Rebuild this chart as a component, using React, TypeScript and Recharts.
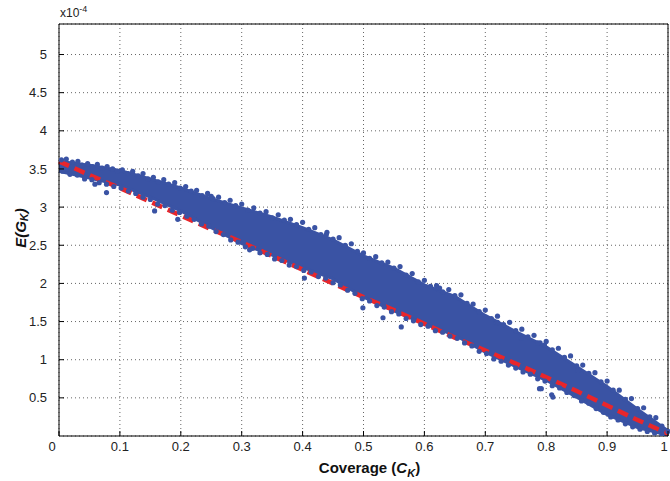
import React from "react";
import {
  ComposedChart,
  Area,
  Line,
  Scatter,
  XAxis,
  YAxis,
  CartesianGrid,
  ReferenceLine,
  Label,
} from "recharts";

const BLUE = "#3a53a4";
const RED = "#e8262b";
const FONT = "'Liberation Sans', Arial, Helvetica, sans-serif";

// tick labels
const X_TICKS = [0, 0.1, 0.2, 0.3, 0.4, 0.5, 0.6, 0.7, 0.8, 0.9, 1];
const Y_TICKS = [0.5, 1, 1.5, 2, 2.5, 3, 3.5, 4, 4.5, 5];

// dense core of the scatter cloud (x10^-4), read every 0.05 of coverage
const bandX = [0, 0.05, 0.1, 0.15, 0.2, 0.25, 0.3, 0.35, 0.4, 0.45, 0.5, 0.55, 0.6, 0.65, 0.7, 0.75, 0.8, 0.85, 0.9, 0.95, 1];
const bandLow = [3.47, 3.38, 3.29, 3.13, 2.95, 2.73, 2.52, 2.37, 2.21, 2.06, 1.82, 1.64, 1.47, 1.32, 1.1, 0.91, 0.73, 0.51, 0.28, 0.11, 0.01];
const bandHigh = [3.6, 3.55, 3.48, 3.37, 3.25, 3.11, 2.99, 2.87, 2.73, 2.57, 2.36, 2.2, 1.98, 1.83, 1.58, 1.37, 1.17, 0.91, 0.65, 0.35, 0.07];

// red dashed reference curve
const fitLine = [3.6, 3.42, 3.25, 3.07, 2.89, 2.71, 2.54, 2.36, 2.18, 2.0, 1.82, 1.65, 1.47, 1.29, 1.12, 0.95, 0.77, 0.59, 0.4, 0.21, 0.03];

// individual samples along the ragged upper edge
const upperDots: [number, number][] = [
  [0.004, 3.62], [0.012, 3.63], [0.022, 3.59], [0.031, 3.6], [0.038, 3.55], [0.047, 3.57], [0.055, 3.53],
  [0.063, 3.56], [0.071, 3.51], [0.079, 3.53], [0.088, 3.5], [0.096, 3.47], [0.104, 3.49], [0.113, 3.44],
  [0.121, 3.47], [0.13, 3.41], [0.138, 3.44], [0.146, 3.37], [0.155, 3.39], [0.163, 3.33], [0.172, 3.36],
  [0.18, 3.3], [0.19, 3.32], [0.199, 3.25], [0.208, 3.27], [0.217, 3.21], [0.226, 3.22], [0.235, 3.15],
  [0.244, 3.18], [0.253, 3.11], [0.262, 3.13], [0.272, 3.06], [0.281, 3.09], [0.29, 3.02], [0.3, 3.04],
  [0.31, 2.96], [0.32, 2.99], [0.33, 2.92], [0.34, 2.94], [0.35, 2.86], [0.36, 2.9], [0.37, 2.83],
  [0.38, 2.84], [0.39, 2.77], [0.4, 2.8], [0.41, 2.71], [0.42, 2.73], [0.43, 2.64], [0.44, 2.67],
  [0.45, 2.58], [0.46, 2.6], [0.47, 2.5], [0.48, 2.52], [0.49, 2.42], [0.5, 2.4], [0.51, 2.33],
  [0.52, 2.35], [0.53, 2.27], [0.54, 2.28], [0.55, 2.2], [0.56, 2.22], [0.57, 2.11], [0.58, 2.13],
  [0.59, 2.02], [0.6, 2.04], [0.61, 1.96], [0.62, 1.97], [0.63, 1.89], [0.64, 1.92], [0.65, 1.84],
  [0.66, 1.85], [0.67, 1.74], [0.68, 1.73], [0.69, 1.63], [0.7, 1.65], [0.71, 1.54], [0.72, 1.57],
  [0.73, 1.46], [0.74, 1.49], [0.75, 1.38], [0.76, 1.4], [0.77, 1.3], [0.78, 1.32], [0.79, 1.22],
  [0.8, 1.24], [0.81, 1.13], [0.82, 1.15], [0.83, 1.03], [0.84, 1.05], [0.85, 0.92], [0.86, 0.93],
  [0.87, 0.82], [0.88, 0.83], [0.89, 0.71], [0.9, 0.72], [0.91, 0.6], [0.92, 0.6], [0.93, 0.48],
  [0.94, 0.49], [0.95, 0.36], [0.96, 0.37], [0.97, 0.25], [0.98, 0.24], [0.99, 0.13], [1.0, 0.06],
];

// samples along the lower edge
const lowerDots: [number, number][] = [
  [0.006, 3.47], [0.018, 3.43], [0.03, 3.42], [0.042, 3.37], [0.054, 3.36], [0.066, 3.32], [0.078, 3.3],
  [0.09, 3.27], [0.102, 3.25], [0.114, 3.21], [0.126, 3.18], [0.138, 3.13], [0.15, 3.1], [0.162, 3.04],
  [0.174, 3.02], [0.186, 2.96], [0.198, 2.93], [0.21, 2.88], [0.222, 2.84], [0.234, 2.78], [0.246, 2.75],
  [0.258, 2.68], [0.27, 2.64], [0.282, 2.57], [0.294, 2.54], [0.306, 2.48], [0.318, 2.46], [0.33, 2.4],
  [0.342, 2.38], [0.354, 2.32], [0.366, 2.3], [0.378, 2.24], [0.39, 2.22], [0.402, 2.17], [0.414, 2.15],
  [0.426, 2.09], [0.438, 2.07], [0.45, 2.01], [0.462, 1.98], [0.474, 1.91], [0.486, 1.87], [0.498, 1.8],
  [0.51, 1.77], [0.522, 1.71], [0.534, 1.69], [0.546, 1.63], [0.558, 1.6], [0.57, 1.54], [0.582, 1.51],
  [0.594, 1.46], [0.606, 1.44], [0.618, 1.38], [0.63, 1.36], [0.642, 1.31], [0.654, 1.28], [0.666, 1.22],
  [0.678, 1.18], [0.69, 1.11], [0.702, 1.08], [0.714, 1.01], [0.726, 0.98], [0.738, 0.93], [0.75, 0.89],
  [0.762, 0.84], [0.774, 0.81], [0.786, 0.75], [0.798, 0.72], [0.81, 0.66], [0.822, 0.63], [0.834, 0.57],
  [0.846, 0.53], [0.858, 0.46], [0.87, 0.43], [0.882, 0.36], [0.894, 0.31], [0.906, 0.25], [0.918, 0.21],
  [0.93, 0.16], [0.942, 0.12], [0.954, 0.09], [0.966, 0.06], [0.978, 0.04], [0.99, 0.02],
];

// stray samples away from the cloud
const strayDots: [number, number][] = [
  [0.059, 3.3], [0.078, 3.19], [0.157, 2.95], [0.195, 2.84], [0.25, 3.14], [0.313, 2.44], [0.403, 2.07],
  [0.439, 2.64], [0.499, 1.68], [0.532, 1.55], [0.562, 1.43], [0.625, 1.94], [0.718, 1.48], [0.72, 1.49],
  [0.759, 1.28], [0.786, 1.22], [0.797, 1.19], [0.789, 0.62], [0.792, 0.62], [0.809, 0.54], [0.811, 0.51],
  [0.852, 0.86],
];

const rows = bandX.map((x, i) => ({ x, band: [bandLow[i], bandHigh[i]], fit: fitLine[i] }));
const dots = [...upperDots, ...lowerDots, ...strayDots].map(([x, y]) => ({ x, y }));

const XTick = (props: any) => {
  const { x, y, payload } = props;
  // the end labels sit a little inside, as in the original figure
  const shift = payload.value === 0 ? -7 : payload.value === 1 ? -4 : 0;
  return (
    <g>
      <line x1={x} x2={x} y1={y - 5} y2={y - 10} stroke="#000" />
      <text x={x + shift} y={y} dy="0.75em" textAnchor="middle" fontSize={13} fill="#222" fontFamily={FONT}>
        {payload.value}
      </text>
    </g>
  );
};

const YTick = (props: any) => {
  const { x, y, payload } = props;
  return (
    <g>
      <line x1={x + 12} x2={x + 17} y1={y} y2={y} stroke="#000" />
      <text x={x} y={y} dy="0.35em" textAnchor="end" fontSize={13} fill="#222" fontFamily={FONT}>
        {payload.value}
      </text>
    </g>
  );
};

export default function App() {
  return (
    <div style={{ position: "absolute", left: 0, top: 0, width: 670, height: 481, background: "#fff" }}>
      <div style={{ position: "absolute", left: 60, top: 4, fontFamily: FONT, fontSize: 12, color: "#222" }}>
        x10<sup style={{ fontSize: 9 }}>-4</sup>
      </div>
      <ComposedChart width={670} height={481} data={rows} margin={{ top: 24, right: 2, bottom: 15, left: 0 }}>
        <CartesianGrid stroke="#666" strokeDasharray="1 3" />
        <XAxis
          type="number"
          dataKey="x"
          domain={[0, 1]}
          ticks={X_TICKS}
          interval={0}
          height={30}
          tickSize={0}
          tickMargin={5}
          tick={<XTick />}
          axisLine={{ stroke: "#000" }}
          tickLine={false}
        >
          <Label
            content={({ viewBox }: any) => (
              <text
                x={viewBox.x + viewBox.width / 2 + 6}
                y={viewBox.y + 37}
                textAnchor="middle"
                fontSize={15}
                fontWeight="bold"
                fontFamily={FONT}
                fill="#111"
              >
                Coverage (<tspan fontStyle="italic">C</tspan>
                <tspan fontStyle="italic" fontSize={11} dy={4}>K</tspan>
                <tspan dy={-4}>)</tspan>
              </text>
            )}
          />
        </XAxis>
        <YAxis
          type="number"
          domain={[0, 5.4]}
          ticks={Y_TICKS}
          interval={0}
          width={59}
          tickSize={0}
          tickMargin={12}
          tick={<YTick />}
          axisLine={{ stroke: "#000" }}
          tickLine={false}
          allowDataOverflow
        >
          <Label
            content={({ viewBox }: any) => {
              const cx = 20;
              const cy = viewBox.y + viewBox.height / 2 - 2;
              return (
                <text
                  x={cx}
                  y={cy}
                  transform={`rotate(-90, ${cx}, ${cy})`}
                  textAnchor="middle"
                  dominantBaseline="central"
                  fontSize={15}
                  fontWeight="bold"
                  fontStyle="italic"
                  fontFamily={FONT}
                  fill="#111"
                >
                  E(G<tspan fontSize={11} dy={4}>K</tspan>
                  <tspan dy={-4}>)</tspan>
                </text>
              );
            }}
          />
        </YAxis>
        <ReferenceLine y={5.4} stroke="#000" />
        <ReferenceLine x={1} stroke="#000" />
        <Area
          type="linear"
          dataKey="band"
          stroke={BLUE}
          strokeWidth={3}
          fill={BLUE}
          fillOpacity={1}
          isAnimationActive={false}
          dot={false}
          activeDot={false}
        />
        <Scatter
          data={dots}
          dataKey="y"
          fill={BLUE}
          isAnimationActive={false}
          shape={(p: any) => <circle cx={p.cx} cy={p.cy} r={2.6} fill={BLUE} />}
        />
        <Line
          type="linear"
          dataKey="fit"
          stroke={RED}
          strokeWidth={4.5}
          strokeDasharray="11 6"
          dot={false}
          activeDot={false}
          isAnimationActive={false}
        />
      </ComposedChart>
    </div>
  );
}
